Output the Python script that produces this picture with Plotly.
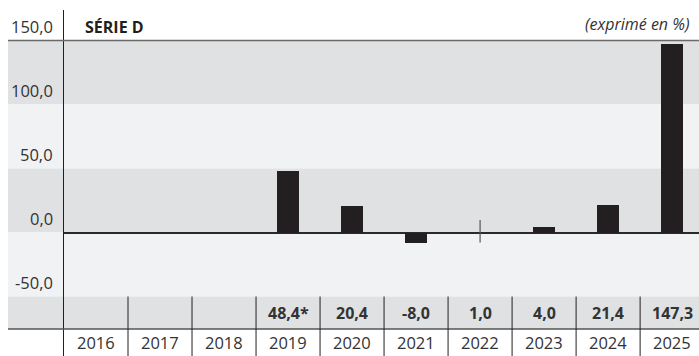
import plotly.graph_objects as go

# ---- data ----
years = ["2016", "2017", "2018", "2019", "2020", "2021", "2022", "2023", "2024", "2025"]
values = [None, None, None, 48.4, 20.4, -8.0, 1.0, 4.0, 21.4, 147.3]
value_labels = ["", "", "", "48,4*", "20,4", "-8,0", "1,0", "4,0", "21,4", "147,3"]
ytick_vals = [150, 100, 50, 0, -50]
ytick_text = ["150,0", "100,0", "50,0", "0,0", "-50,0"]
band_edges = [150, 100, 50, 0, -50]
title_text = "SÉRIE D"
unit_text = "(exprimé en %)"

# ---- style ----
FONT = "Open Sans"
DARK = "#231f20"
BAND_DARK = "#e0e1e3"
BAND_LIGHT = "#f1f2f4"
Y_TOP, Y_BOT = 173.83, -96.48
TABLE_TOP, TABLE_LINE = -50, -75.4
VAL_Y, YEAR_Y = -63.0, -86.3
SMALL = 2.0
LEFT_PAPER = (8 - 64) / 635.0

xs = list(range(len(years)))
bar_y = [v if (v is not None and abs(v) >= SMALL) else None for v in values]
tick_x = [i for i, v in zip(xs, values) if v is not None and abs(v) < SMALL]
tick_y = [v for v in values if v is not None and abs(v) < SMALL]

fig = go.Figure()
fig.add_trace(go.Bar(x=xs, y=bar_y, width=0.34, marker=dict(color=DARK, line=dict(width=0)),
                     hoverinfo="skip", showlegend=False))
fig.add_trace(go.Scatter(x=tick_x, y=tick_y, mode="markers",
                         marker=dict(symbol="line-ns", size=16, line=dict(color="#555555", width=1.2)),
                         hoverinfo="skip", showlegend=False))

shapes = []
cols = [BAND_DARK, BAND_LIGHT, BAND_DARK, BAND_LIGHT]
for i in range(len(band_edges) - 1):
    shapes.append(dict(type="rect", xref="paper", yref="y", x0=LEFT_PAPER, x1=1,
                       y0=band_edges[i + 1], y1=band_edges[i], fillcolor=cols[i],
                       line=dict(width=0), layer="below"))
shapes.append(dict(type="rect", xref="paper", yref="y", x0=LEFT_PAPER, x1=1,
                   y0=TABLE_LINE, y1=TABLE_TOP, fillcolor=BAND_DARK, line=dict(width=0), layer="below"))
shapes.append(dict(type="line", xref="paper", yref="y", x0=LEFT_PAPER, x1=1,
                   y0=band_edges[0], y1=band_edges[0], line=dict(color="#6a6a6a", width=1.5)))
shapes.append(dict(type="line", xref="paper", yref="y", x0=LEFT_PAPER, x1=1,
                   y0=TABLE_LINE, y1=TABLE_LINE, line=dict(color="#555555", width=1.5)))
for i in range(1, len(years)):
    shapes.append(dict(type="line", xref="x", yref="y", x0=i - 0.5, x1=i - 0.5,
                       y0=TABLE_TOP, y1=Y_BOT, line=dict(color=DARK, width=1)))

ann = []
for i, (yr, lab) in enumerate(zip(years, value_labels)):
    ann.append(dict(x=i, y=YEAR_Y, xref="x", yref="y", text=yr, showarrow=False,
                    font=dict(family=FONT, size=16.5, color="#333333")))
    if lab:
        ann.append(dict(x=i, y=VAL_Y, xref="x", yref="y", text="<b>" + lab + "</b>", showarrow=False,
                        font=dict(family=FONT, size=16, color="#333333")))
for v, t in zip(ytick_vals, ytick_text):
    ann.append(dict(x=-9 / 635.0, y=v, xref="paper", yref="y", text=t, showarrow=False,
                    xanchor="right", yanchor="bottom", yshift=1,
                    font=dict(family=FONT, size=16.5, color="#333333")))
ann.append(dict(x=19 / 635.0, y=band_edges[0], xref="paper", yref="y", text="<b>" + title_text + "</b>",
                showarrow=False, xanchor="left", yanchor="bottom", yshift=1,
                font=dict(family=FONT, size=16, color="#231f20")))
ann.append(dict(x=(692 - 64) / 635.0, y=band_edges[0], xref="paper", yref="y", text="<i>" + unit_text + "</i>",
                showarrow=False, xanchor="right", yanchor="bottom", yshift=3,
                font=dict(family=FONT, size=16, color="#333333")))

fig.update_layout(
    width=699, height=356,
    margin=dict(l=64, r=0, t=10, b=0),
    paper_bgcolor="white", plot_bgcolor="rgba(0,0,0,0)",
    shapes=shapes, annotations=ann,
    xaxis=dict(range=[-0.5, 9.42], showgrid=False, zeroline=False, showticklabels=False,
               ticks="", fixedrange=True),
    yaxis=dict(range=[Y_BOT, Y_TOP], showgrid=False, showticklabels=False, ticks="",
               zeroline=True, zerolinecolor="#2a2a2a", zerolinewidth=1.5,
               showline=True, linecolor=DARK, linewidth=1.2, fixedrange=True),
    bargap=0,
)
fig.write_html("out.html")
